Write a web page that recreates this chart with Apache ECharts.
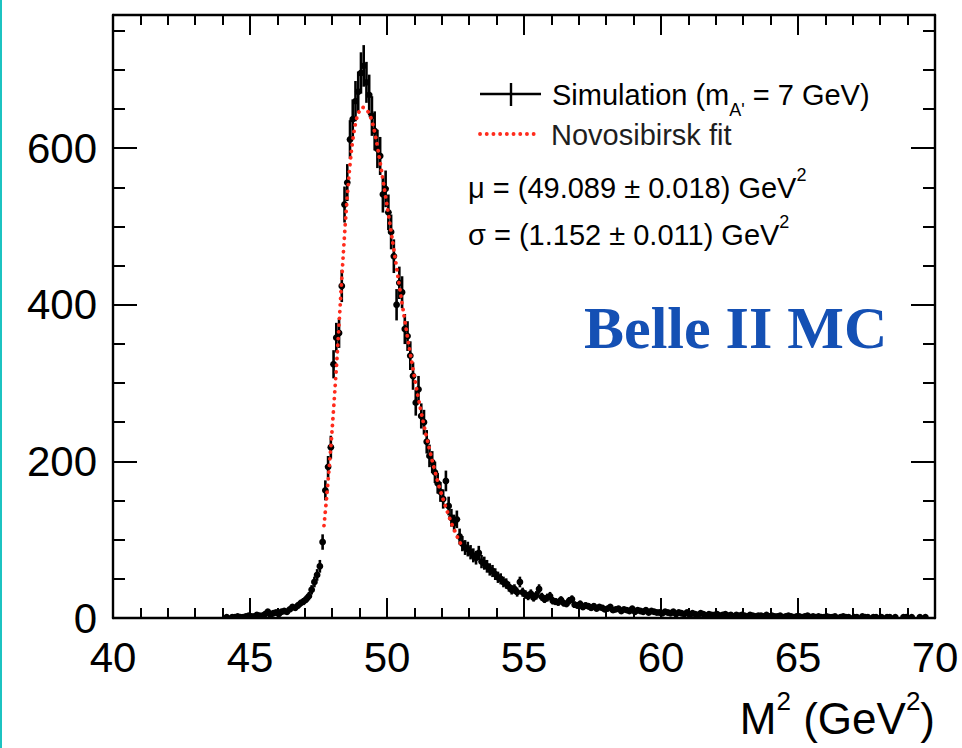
<!DOCTYPE html>
<html>
<head>
<meta charset="utf-8">
<script src="https://cdn.jsdelivr.net/npm/echarts@6/dist/echarts.min.js"></script>
<style>html,body{margin:0;padding:0;background:#fff}#c{width:962px;height:748px}</style>
</head>
<body>
<div id="c"></div>
<script>
// ---- data ----
const binStart = 44.0;          // lower edge of first filled bin (GeV^2)
const binWidth = 0.1;           // GeV^2
const counts = [
  0,1,0,1,1,2,1,1,2,3,            // 44
  2,2,4,3,3,5,8,4,6,7,            // 45
  5,8,9,8,11,14,13,16,19,21,      // 46
  24,28,36,46,55,66,97,163,193,218, // 47
  324,358,364,424,528,556,611,637,660,672, // 48
  696,705,684,668,641,622,599,590,541,548, // 49
  518,493,462,400,428,416,369,360,335,309, // 50
  275,292,258,250,225,207,199,186,172,161, // 51
  152,175,143,128,121,126,104,95,90,88,    // 52
  84,80,77,83,72,70,66,62,60,56,  // 53
  52,50,46,44,40,36,37,33,46,33,  // 54
  30,28,31,26,29,37,27,24,26,28,  // 55
  22,21,20,23,19,18,22,24,17,16,  // 56
  18,14,16,15,13,15,12,14,13,11,  // 57
  12,14,10,11,12,9,11,10,9,12,    // 58
  8,10,9,8,10,7,9,8,7,7,          // 59
  6,8,7,6,8,5,7,6,5,7,            // 60
  4,6,5,4,6,5,3,5,4,4,            // 61
  5,3,4,5,3,4,2,4,3,4,            // 62
  3,2,4,3,2,3,3,2,4,2,            // 63
  3,2,2,3,1,2,3,2,1,2,            // 64
  2,1,2,3,1,2,1,2,1,1,            // 65
  2,1,1,2,0,1,2,1,1,0,            // 66
  1,1,0,2,1,1,0,1,1,0,            // 67
  1,0,1,1,0,1,0,0,1,1,            // 68
  0,1,0,0,1,0,1,0,0,0             // 69
];
// Novosibirsk fit curve
const fitX = [47.7,47.8,47.9,48.0,48.1,48.2,48.3,48.4,48.5,48.6,48.7,48.8,48.9,49.0,49.1,49.2,49.3,49.4,49.5,49.6,49.7,49.8,49.9,50.0,50.1,50.2,50.3,50.4,50.5,50.6,50.7,50.8,50.9,51.0,51.1,51.2,51.3,51.4,51.5,51.6,51.7,51.8,51.9,52.0,52.1,52.2,52.3,52.4,52.5,52.6,52.7];
const fitY = [118,155,196,242,292,346,404,462,515,560,596,622,639,648,652,651,647,640,628,612,592,571,549,527,505,482,459,436,413,391,369,348,328,308,289,271,254,238,223,208,194,181,168,157,146,136,126,117,109,101,94];
const xTicks = [40,45,50,55,60,65,70];
const yTicks = [0,200,400,600];

// ---- build ----
const histData = [];
counts.forEach((c,i)=>{ if(c>0) histData.push([binStart + binWidth*(i+0.5), c, Math.sqrt(c)]); });
const fitData = fitX.map((x,i)=>[x, fitY[i]]);

const FONT = 'Liberation Sans, Arial, Helvetica, sans-serif';
const BLACK = '#000';
const TXT = '#1e1e1e';
const yMax = 770;

function xAxisCfg(pos, labels){
  return {type:'value', position:pos, min:xTicks[0], max:xTicks[xTicks.length-1], interval:5,
    axisLine:{show:true, onZero:false, lineStyle:{color:BLACK, width:2.4}},
    axisTick:{show:true, inside:true, length:20, lineStyle:{color:BLACK, width:2}},
    minorTick:{show:true, splitNumber:5, length:10, lineStyle:{color:BLACK, width:2}},
    splitLine:{show:false}, minorSplitLine:{show:false},
    axisLabel:{show:labels, fontSize:42, color:BLACK, fontFamily:FONT, margin:18}
  };
}
function yAxisCfg(pos, interval, len, labels, line){
  return {type:'value', position:pos, min:0, max:yMax, interval:interval,
    axisLine:{show:line, onZero:false, lineStyle:{color:BLACK, width:2.4}},
    axisTick:{show:true, inside:true, length:len, lineStyle:{color:BLACK, width:2}},
    splitLine:{show:false},
    axisLabel:{show:labels, showMaxLabel:false, fontSize:42, color:BLACK, fontFamily:FONT, margin:16}
  };
}

const chart = echarts.init(document.getElementById('c'), null, {renderer:'svg'});
chart.setOption({
  backgroundColor:'#fff',
  animation:false,
  grid:{left:113, right:27, top:15, bottom:130, containLabel:false},
  xAxis:[xAxisCfg('bottom', true), xAxisCfg('top', false)],
  yAxis:[yAxisCfg('left',200,24,true,true), yAxisCfg('left',50,12,false,false),
         yAxisCfg('right',200,24,false,true), yAxisCfg('right',50,12,false,false)],
  series:[
    {type:'custom', xAxisIndex:0, yAxisIndex:0, clip:true, z:2,
     data:histData,
     renderItem:function(params, api){
       const x = api.value(0), y = api.value(1), e = api.value(2);
       const c = api.coord([x,y]);
       const t = api.coord([x, y+e]);
       const b = api.coord([x, Math.max(0,y-e)]);
       const l = api.coord([x-binWidth/2, y]);
       const r = api.coord([x+binWidth/2, y]);
       return {type:'group', children:[
         {type:'line', shape:{x1:c[0],y1:t[1],x2:c[0],y2:b[1]}, style:{stroke:BLACK, lineWidth:2.6}},
         {type:'line', shape:{x1:l[0]-0.8,y1:c[1],x2:r[0]+0.8,y2:c[1]}, style:{stroke:BLACK, lineWidth:2.6}},
         {type:'circle', shape:{cx:c[0],cy:c[1],r:3.4}, style:{fill:BLACK}}
       ]};
     }},
    {type:'line', xAxisIndex:0, yAxisIndex:0, data:fitData, smooth:0.3, showSymbol:false, symbol:'none', z:5,
     lineStyle:{color:'#ff2b1c', width:3.8, type:[0.1,6.6], cap:'round'}}
  ],
  graphic:[
    {type:'rect', left:0, top:0, shape:{x:0,y:0,width:2,height:748}, style:{fill:'#1cc3c1'}},
    // legend entry 1: data marker
    {type:'line', shape:{x1:480,y1:94,x2:541,y2:94}, style:{stroke:BLACK, lineWidth:2.4}},
    {type:'line', shape:{x1:511,y1:83,x2:511,y2:106}, style:{stroke:BLACK, lineWidth:2.4}},
    {type:'text', x:552, y:95, style:{
      text:'{a|Simulation (m}{s|A\'}{a| = 7 GeV)}',
      rich:{a:{fontSize:29, fontFamily:FONT, color:TXT, verticalAlign:'middle', lineHeight:48},
            s:{fontSize:18, fontFamily:FONT, color:TXT, verticalAlign:'bottom', lineHeight:48}},
      verticalAlign:'middle', align:'left'}},
    // legend entry 2: fit
    {type:'polyline', shape:{points:[[480,134],[537,134]]}, style:{stroke:'#ff2b1c', lineWidth:3.8, lineDash:[0.1,6.6], lineCap:'round', fill:null}},
    {type:'text', x:551, y:135, style:{text:'Novosibirsk fit', fontSize:29, fontFamily:FONT, fill:TXT, verticalAlign:'middle', align:'left'}},
    {type:'text', x:468, y:188, style:{
      text:'{a|μ = (49.089 ± 0.018) GeV}{p|2}',
      rich:{a:{fontSize:29, fontFamily:FONT, color:TXT, verticalAlign:'middle', lineHeight:44},
            p:{fontSize:18, fontFamily:FONT, color:TXT, verticalAlign:'top', lineHeight:44}},
      verticalAlign:'middle', align:'left'}},
    {type:'text', x:468, y:235, style:{
      text:'{a|σ = (1.152 ± 0.011) GeV}{p|2}',
      rich:{a:{fontSize:29, fontFamily:FONT, color:TXT, verticalAlign:'middle', lineHeight:44},
            p:{fontSize:18, fontFamily:FONT, color:TXT, verticalAlign:'top', lineHeight:44}},
      verticalAlign:'middle', align:'left'}},
    {type:'text', x:584, y:328, style:{text:'Belle II MC', fontSize:60, fontWeight:'bold', fontFamily:'Liberation Serif, DejaVu Serif, serif', fill:'#1450b4', verticalAlign:'middle', align:'left'}},
    {type:'text', x:935, y:718, style:{
      text:'{a|M}{p|2}{a| (GeV}{p|2}{a|)}',
      rich:{a:{fontSize:44, fontFamily:FONT, color:BLACK, verticalAlign:'middle', lineHeight:60},
            p:{fontSize:26, fontFamily:FONT, color:BLACK, verticalAlign:'top', lineHeight:60}},
      verticalAlign:'middle', align:'right'}}
  ]
});
</script>
</body>
</html>
